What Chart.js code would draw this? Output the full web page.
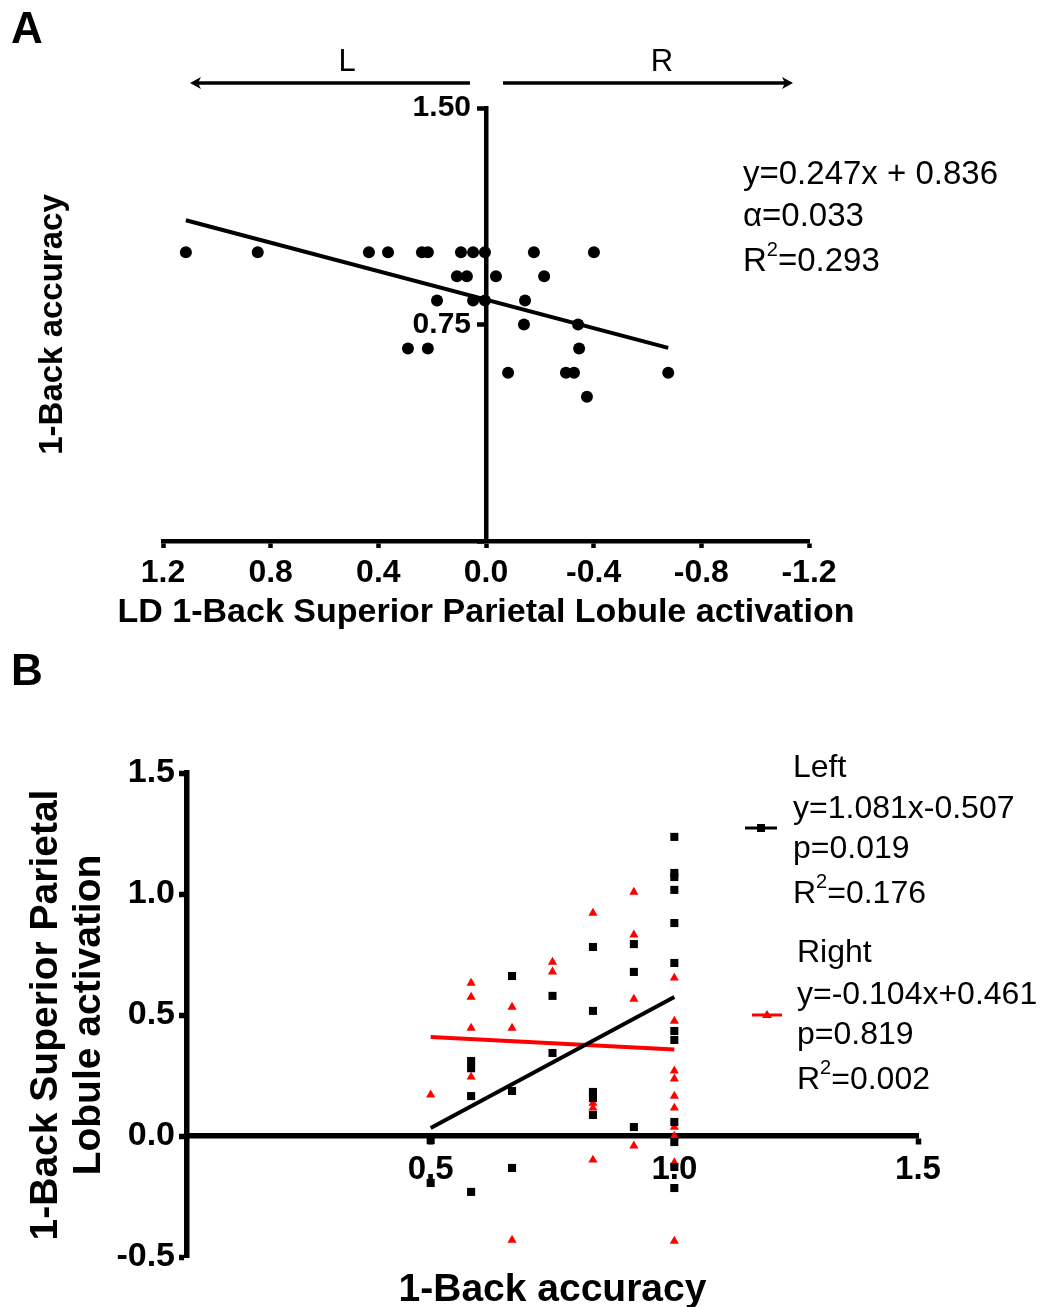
<!DOCTYPE html>
<html>
<head>
<meta charset="utf-8">
<title>1-Back accuracy and Superior Parietal Lobule activation</title>
<script src="https://cdn.jsdelivr.net/npm/chart.js@4.4.1/dist/chart.umd.min.js"></script>
<style>
  html, body { margin: 0; padding: 0; background: #fff; }
  #wrap { position: relative; width: 1045px; height: 1307px; }
  #chart-a { position: absolute; left: 0; top: 0; }
  #chart-b { position: absolute; left: 0; top: 650px; }
</style>
</head>
<body>
<div id="wrap">
  <canvas id="chart-a" width="1045" height="650"></canvas>
  <canvas id="chart-b" width="1045" height="657"></canvas>
</div>
<script>
var FONT = "'Liberation Sans', Arial, sans-serif";

// Panel A: LD 1-Back SPL activation (x, reversed: L on the left) vs 1-Back accuracy (y)
var a_activation = [1.115, 0.848, 0.435, 0.364, 0.238, 0.216, 0.093, 0.048, 0.004, -0.178, -0.401,
                    0.108, 0.071, -0.037, -0.216,
                    0.182, 0.048, 0.004, -0.145,
                    -0.141, -0.342,
                    0.290, 0.216, -0.346,
                    -0.082, -0.297, -0.327, -0.677,
                    -0.375];
var a_accuracy = [1, 1, 1, 1, 1, 1, 1, 1, 1, 1, 1,
                  0.917, 0.917, 0.917, 0.917,
                  0.833, 0.833, 0.833, 0.833,
                  0.75, 0.75,
                  0.667, 0.667, 0.667,
                  0.583, 0.583, 0.583, 0.583,
                  0.5];
var a_fit_x = [1.115, -0.677];
var a_fit_y = [1.111, 0.669];
var a_x_ticks = [-1.2, -0.8, -0.4, 0, 0.4, 0.8, 1.2];
var a_x_labels = ['-1.2', '-0.8', '-0.4', '0.0', '0.4', '0.8', '1.2'];
var a_y_ticks = [0, 0.75, 1.5];
var a_y_labels = ['', '0.75', '1.50'];
var a_x_title = 'LD 1-Back Superior Parietal Lobule activation';
var a_stats = ['y=0.247x + 0.836', '\u03b1=0.033', 'R\u00b2=0.293'];

// Panel B: 1-Back accuracy (x) vs SPL activation, left and right hemisphere
var left_x = [0.5, 0.5,
              0.583, 0.583, 0.583, 0.583,
              0.667, 0.667, 0.667,
              0.75, 0.75,
              0.833, 0.833, 0.833, 0.833, 0.833,
              0.917, 0.917, 0.917,
              1, 1, 1, 1, 1, 1, 1, 1, 1, 1, 1, 1];
var left_y = [-0.017, -0.194,
              0.31, 0.28, 0.165, -0.231,
              0.661, 0.186, -0.132,
              0.579, 0.343,
              0.781, 0.517, 0.182, 0.157, 0.087,
              0.793, 0.678, 0.037,
              1.236, 1.087, 1.07, 1.017, 0.88, 0.715, 0.434, 0.397, 0.058, -0.025, -0.128, -0.215];
var right_x = [0.5,
               0.583, 0.583, 0.583, 0.583,
               0.667, 0.667, 0.667,
               0.75, 0.75,
               0.833, 0.833, 0.833, 0.833,
               0.917, 0.917, 0.917, 0.917,
               1, 1, 1, 1, 1, 1, 1, 1, 1, 1];
var right_y = [0.17,
               0.632, 0.574, 0.446, 0.244,
               0.533, 0.446, -0.43,
               0.719, 0.678,
               0.921, 0.136, 0.116, -0.099,
               1.008, 0.831, 0.566, -0.041,
               0.653, 0.475, 0.269, 0.236, 0.165, 0.116, 0.037, 0.0, -0.11, -0.434];
var left_fit_x = [0.5, 1.0];
var left_fit_y = [0.033, 0.574];
var right_fit_x = [0.5, 1.0];
var right_fit_y = [0.409, 0.357];
var b_x_ticks = [0.5, 1.0, 1.5];
var b_x_labels = ['0.5', '1.0', '1.5'];
var b_y_ticks = [-0.5, 0, 0.5, 1.0, 1.5];
var b_y_labels = ['-0.5', '0.0', '0.5', '1.0', '1.5'];
var left_stats = ['Left', 'y=1.081x-0.507', 'p=0.019', 'R\u00b2=0.176'];
var right_stats = ['Right', 'y=-0.104x+0.461', 'p=0.819', 'R\u00b2=0.002'];


function toPoints(xs, ys) {
    var out = [];
    for (var i = 0; i < xs.length; i++) {
        out.push({x: xs[i], y: ys[i]});
    }
    return out;
}

function useTicks(values) {
    return function(scale) {
        scale.ticks = values.map(function(v) { return {value: v}; });
    };
}

// draws text, a '²' in it becomes a raised small 2
function fillRichText(ctx, text, x, y, size) {
    var parts = text.split('\u00b2');
    ctx.font = size + 'px ' + FONT;
    ctx.fillText(parts[0], x, y);
    if (parts.length > 1) {
        x += ctx.measureText(parts[0]).width;
        ctx.font = Math.round(size * 0.62) + 'px ' + FONT;
        ctx.fillText('2', x, y - size * 0.36);
        x += ctx.measureText('2').width;
        ctx.font = size + 'px ' + FONT;
        ctx.fillText(parts[1], x, y);
    }
}

function drawArrow(ctx, x1, x2, y) {
    var dir = x2 > x1 ? 1 : -1;
    ctx.beginPath();
    ctx.moveTo(x1, y);
    ctx.lineTo(x2 - dir * 8, y);
    ctx.lineWidth = 3.5;
    ctx.stroke();
    ctx.beginPath();
    ctx.moveTo(x2, y);
    ctx.lineTo(x2 - dir * 11, y - 6);
    ctx.lineTo(x2 - dir * 8, y);
    ctx.lineTo(x2 - dir * 11, y + 6);
    ctx.closePath();
    ctx.fill();
}

var panelAExtras = {
    id: 'panelAExtras',
    afterDraw: function(chart) {
        var ctx = chart.ctx;
        ctx.save();
        ctx.fillStyle = '#000';
        ctx.strokeStyle = '#000';
        ctx.textBaseline = 'middle';

        ctx.textAlign = 'left';
        ctx.font = 'bold 44px ' + FONT;
        ctx.fillText('A', 11, 31);

        ctx.textAlign = 'center';
        ctx.font = '31px ' + FONT;
        ctx.fillText('L', 347, 62);
        ctx.fillText('R', 662, 62);
        drawArrow(ctx, 470, 190, 83);
        drawArrow(ctx, 503, 793, 83);

        // x title is wider than the axis, so it is drawn here (the scale title would squeeze it)
        ctx.font = 'bold 34px ' + FONT;
        ctx.fillText(a_x_title, chart.scales.x.getPixelForValue(0), 613);

        ctx.textAlign = 'left';
        var rows = [175, 217, 262];
        for (var i = 0; i < a_stats.length; i++) {
            fillRichText(ctx, a_stats[i], 743, rows[i], 33);
        }
        ctx.restore();
    }
};

var panelBExtras = {
    id: 'panelBExtras',
    afterDraw: function(chart) {
        var ctx = chart.ctx;
        ctx.save();
        ctx.fillStyle = '#000';
        ctx.textBaseline = 'middle';
        ctx.textAlign = 'left';
        ctx.font = 'bold 44px ' + FONT;
        ctx.fillText('B', 11, 23);

        // legend samples
        ctx.lineWidth = 3;
        ctx.strokeStyle = '#000';
        ctx.beginPath();
        ctx.moveTo(745, 178);
        ctx.lineTo(777, 178);
        ctx.stroke();
        ctx.fillRect(757, 174, 8, 8);

        ctx.strokeStyle = 'rgb(255,0,0)';
        ctx.fillStyle = 'rgb(255,0,0)';
        ctx.beginPath();
        ctx.moveTo(752, 365);
        ctx.lineTo(782, 365);
        ctx.stroke();
        ctx.beginPath();
        ctx.moveTo(767, 360);
        ctx.lineTo(772, 368);
        ctx.lineTo(762, 368);
        ctx.closePath();
        ctx.fill();

        ctx.fillStyle = '#000';
        var leftRows = [118, 159, 199, 244];
        var rightRows = [303, 345, 385, 430];
        for (var i = 0; i < left_stats.length; i++) {
            fillRichText(ctx, left_stats[i], 793, leftRows[i], 32);
        }
        for (var j = 0; j < right_stats.length; j++) {
            fillRichText(ctx, right_stats[j], 797, rightRows[j], 32);
        }
        ctx.restore();
    }
};


Chart.defaults.font.family = FONT;
Chart.defaults.color = '#000';

// Panel A
new Chart(document.getElementById('chart-a'), {
    type: 'scatter',
    data: {
        datasets: [{
            label: 'Subjects',
            data: toPoints(a_activation, a_accuracy),
            xAxisID: 'x',
            yAxisID: 'y',
            pointStyle: 'circle',
            pointRadius: 6,
            backgroundColor: '#000',
            borderColor: '#000',
            borderWidth: 0,
            clip: false
        }, {
            label: 'Fit',
            data: toPoints(a_fit_x, a_fit_y),
            xAxisID: 'x',
            yAxisID: 'y',
            showLine: true,
            pointRadius: 0,
            borderColor: '#000',
            borderWidth: 4,
            clip: false
        }]
    },
    options: {
        responsive: false,
        animation: false,
        layout: { padding: { left: 20, right: 236, top: 108, bottom: 49 } },
        plugins: { legend: { display: false }, tooltip: { enabled: false } },
        scales: {
            y: {
                type: 'linear',
                position: { x: 0 },
                min: 0,
                max: 1.5,
                afterBuildTicks: useTicks(a_y_ticks),
                ticks: {
                    font: { size: 30, weight: 'bold' },
                    // labels sit right on the axis here, the en space keeps them off it
                    callback: function(v, i) { return a_y_labels[i] ? a_y_labels[i] + '\u2002' : ''; }
                },
                grid: { drawOnChartArea: false, tickLength: 7, tickWidth: 4.5, tickColor: '#000' },
                border: { color: '#000', width: 4.5 }
            },
            yTitle: {
                type: 'linear',
                position: 'left',
                min: 0,
                max: 1.5,
                grid: { display: false },
                border: { display: false },
                ticks: { display: false },
                title: {
                    display: true,
                    text: '1-Back accuracy',
                    font: { size: 33, weight: 'bold' },
                    padding: { top: 13, bottom: 0 }
                },
                afterFit: function(scale) { scale.width = 143; }
            },
            x: {
                type: 'linear',
                position: 'bottom',
                reverse: true,
                min: -1.2,
                max: 1.2,
                afterBuildTicks: useTicks(a_x_ticks),
                ticks: {
                    font: { size: 32, weight: 'bold' },
                    padding: 6,
                    maxRotation: 0,
                    autoSkip: false,
                    callback: function(v, i) { return a_x_labels[i]; }
                },
                grid: { drawOnChartArea: false, tickLength: 7, tickWidth: 4.5, tickColor: '#000' },
                border: { color: '#000', width: 4.5 },
                afterFit: function(scale) { scale.height = 60; }
            }
        }
    },
    plugins: [panelAExtras]
});

// Panel B
new Chart(document.getElementById('chart-b'), {
    type: 'scatter',
    data: {
        datasets: [{
            label: 'Left',
            data: toPoints(left_x, left_y),
            pointStyle: 'rect',
            pointRadius: 5.7,
            backgroundColor: '#000',
            borderColor: '#000',
            borderWidth: 0,
            clip: false
        }, {
            label: 'Right',
            data: toPoints(right_x, right_y),
            pointStyle: 'triangle',
            pointRadius: 5.3,
            backgroundColor: 'rgb(255,0,0)',
            borderColor: 'rgb(255,0,0)',
            borderWidth: 0,
            clip: false
        }, {
            label: 'Left fit',
            data: toPoints(left_fit_x, left_fit_y),
            showLine: true,
            pointRadius: 0,
            borderColor: '#000',
            borderWidth: 4,
            clip: false
        }, {
            label: 'Right fit',
            data: toPoints(right_fit_x, right_fit_y),
            showLine: true,
            pointRadius: 0,
            borderColor: 'rgb(255,0,0)',
            borderWidth: 4,
            clip: false
        }]
    },
    options: {
        responsive: false,
        animation: false,
        layout: { padding: { left: 10, right: 127, top: 123, bottom: 50 } },
        plugins: { legend: { display: false }, tooltip: { enabled: false } },
        scales: {
            y: {
                type: 'linear',
                position: 'left',
                min: -0.5,
                max: 1.5,
                afterBuildTicks: useTicks(b_y_ticks),
                ticks: {
                    font: { size: 34, weight: 'bold' },
                    padding: 4,
                    callback: function(v, i) { return b_y_labels[i]; }
                },
                grid: { drawOnChartArea: false, tickLength: 8, tickWidth: 5.5, tickColor: '#000' },
                border: { color: '#000', width: 5.5 },
                title: {
                    display: true,
                    text: ['1-Back Superior Parietal', 'Lobule activation'],
                    font: { size: 39, weight: 'bold', lineHeight: 1.1 },
                    padding: { top: 15, bottom: 0 }
                },
                afterFit: function(scale) { scale.width = 177; }
            },
            x: {
                type: 'linear',
                position: { y: 0 },
                min: 0,
                max: 1.5,
                afterBuildTicks: useTicks(b_x_ticks),
                ticks: {
                    font: { size: 33, weight: 'bold' },
                    padding: 8,
                    maxRotation: 0,
                    autoSkip: false,
                    callback: function(v, i) { return b_x_labels[i]; }
                },
                grid: { drawOnChartArea: false, tickLength: 6, tickWidth: 5.5, tickColor: '#000' },
                border: { color: '#000', width: 5.5 },
                title: {
                    display: true,
                    text: '1-Back accuracy',
                    font: { size: 39, weight: 'bold' },
                    padding: { top: 69, bottom: 0 }
                }
            }
        }
    },
    plugins: [panelBExtras]
});
</script>
</body>
</html>
